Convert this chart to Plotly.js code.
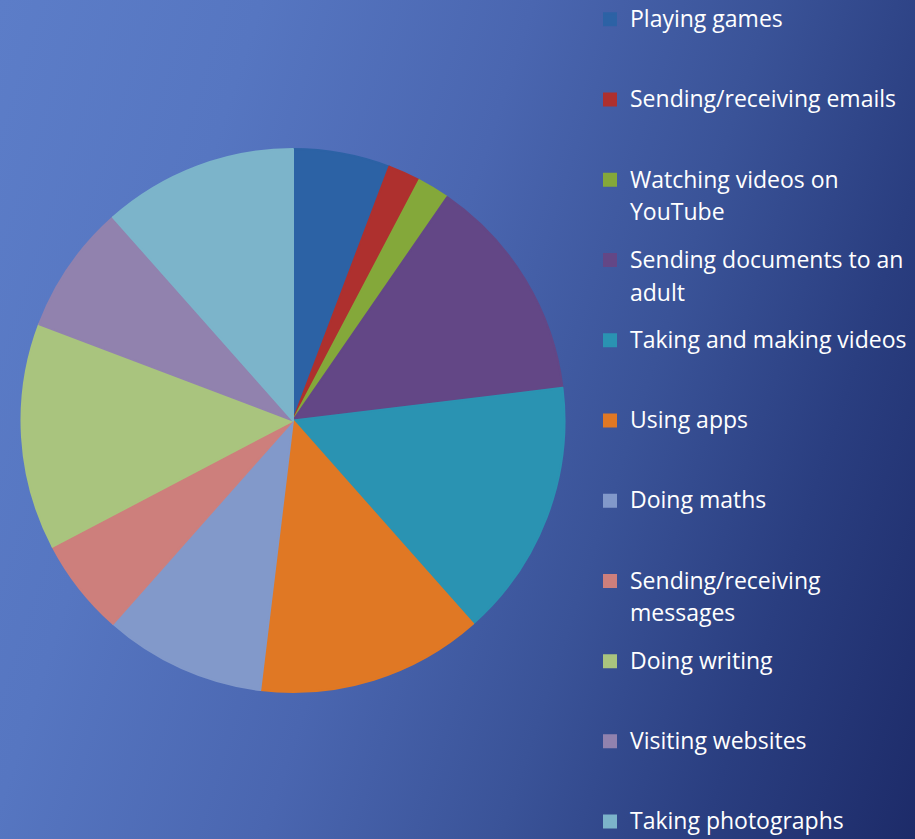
<!DOCTYPE html>
<html>
<head>
<meta charset="utf-8">
<script src="https://cdn.plot.ly/plotly-3.0.1.min.js"></script>
<style>
  html, body { margin: 0; padding: 0; }
  #chart {
    width: 915px; height: 839px;
    background: linear-gradient(108deg, #5C7DC8 0%, #5676C1 22%, #4A66B0 45%, #3A5398 65%, #2A3E80 82%, #1D2B69 100%);
  }
</style>
</head>
<body>
<div id="chart"></div>
<script>
// Data (counts; 52 in total)
const categories = [
  "Playing games",
  "Sending/receiving emails",
  "Watching videos on<br>YouTube",
  "Sending documents to an<br>adult",
  "Taking and making videos",
  "Using apps",
  "Doing maths",
  "Sending/receiving<br>messages",
  "Doing writing",
  "Visiting websites",
  "Taking photographs"
];
const values = [3, 1, 1, 7, 8, 7, 5, 3, 7, 4, 6];
const sliceColors = [
  "#2C62A5", "#AE302E", "#84A83A", "#634786", "#2A93B2", "#E07824",
  "#8299CA", "#CD7F7C", "#A9C47E", "#9182AE", "#7CB4CA"
];

// Legend labels: larger glyphs in a span, padded with blank lines so entries are evenly spaced;
// wrapped second lines are nudged down (nested <sub>) to get the wider line pitch of the original.
const legendLabels = categories.map((c, i) => {
  const lines = c.split("<br>");
  const styled = lines.map((l, k) => k === 0
    ? '<span style="font-size:23px">' + l + '</span>'
    : '<sub><sub><span style="font-size:23px">' + l + '</span></sub></sub>');
  while (i < categories.length - 1 && styled.length < 3) styled.push("\u00a0");
  return styled.join("<br>");
});

const trace = {
  type: "pie",
  labels: legendLabels,
  values: values,
  sort: false,
  direction: "clockwise",
  rotation: 0,
  textinfo: "none",
  hoverinfo: "label+value+percent",
  marker: { colors: sliceColors, line: { width: 2, color: sliceColors } },
  domain: { x: [21 / 915, 565 / 915], y: [147 / 839, 690 / 839] },
  showlegend: true
};

const layout = {
  width: 915,
  height: 839,
  margin: { l: 0, r: 0, t: 0, b: 0, autoexpand: false },
  paper_bgcolor: "rgba(0,0,0,0)",
  plot_bgcolor: "rgba(0,0,0,0)",
  font: { family: "Open Sans, sans-serif", color: "#FFFFFF" },
  showlegend: true,
  legend: {
    x: 590 / 915,
    xanchor: "left",
    y: 1,
    yanchor: "top",
    yref: "container",
    valign: "top",
    bgcolor: "rgba(0,0,0,0)",
    borderwidth: 0,
    font: { family: "Open Sans, sans-serif", size: 19.8, color: "#FFFFFF" },
    maxheight: 2000
  }
};

Plotly.newPlot("chart", [trace], layout, { displayModeBar: false, staticPlot: true });
</script>
</body>
</html>
